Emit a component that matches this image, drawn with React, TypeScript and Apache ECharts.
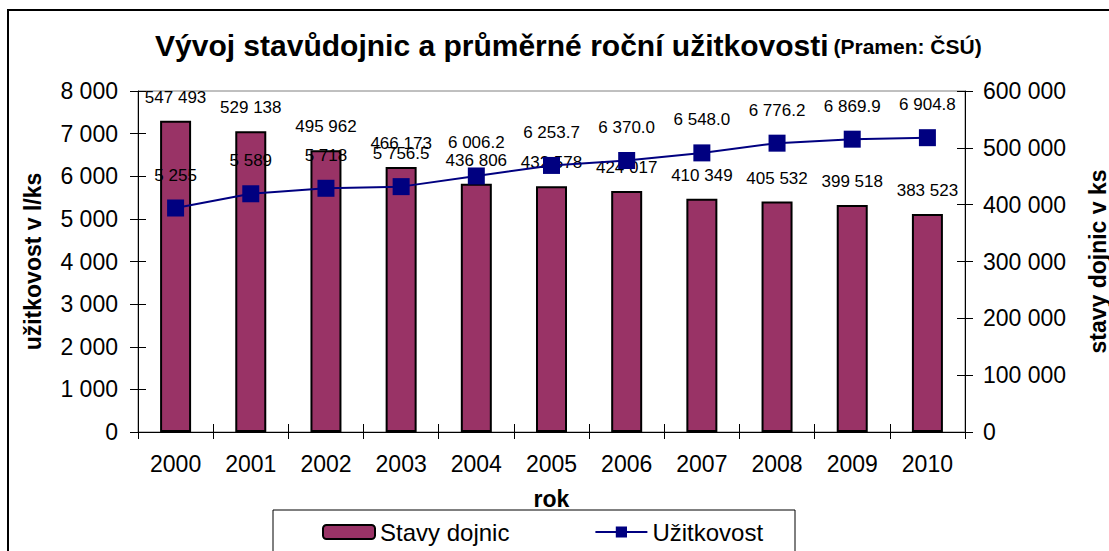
import React, { useEffect, useRef } from "react";
import * as echarts from "echarts";

const years = ["2000", "2001", "2002", "2003", "2004", "2005", "2006", "2007", "2008", "2009", "2010"];
const stavyDojnic = [547493, 529138, 495962, 466173, 436806, 432578, 424017, 410349, 405532, 399518, 383523];
const uzitkovost = [5255, 5589, 5718, 5756.5, 6006.2, 6253.7, 6370.0, 6548.0, 6776.2, 6869.9, 6904.8];
const uzitkovostDecimals = [0, 0, 0, 1, 1, 1, 1, 1, 1, 1, 1];

const FONT = "Liberation Sans, Arial, sans-serif";

function fmt(v: number, dec = 0): string {
  const s = v.toFixed(dec);
  const [i, d] = s.split(".");
  const ii = i.replace(/\B(?=(\d{3})+(?!\d))/g, " ");
  return d !== undefined ? ii + "." + d : ii;
}

export default function App() {
  const ref = useRef<HTMLDivElement>(null);
  useEffect(() => {
    if (!ref.current) return;
    const chart = echarts.init(ref.current, undefined, { renderer: "svg", width: 1109, height: 551 });
    const tickStyle = { color: "#000", width: 1 };
    chart.setOption({
      animation: false,
      backgroundColor: "#fff",
      textStyle: { fontFamily: FONT, color: "#000" },
      title: {
        text: "{a|Vývoj stavůdojnic a průměrné roční užitkovosti} {b|(Pramen: ČSÚ)}",
        left: 150,
        top: 25,
        textStyle: {
          rich: {
            a: { fontSize: 30, fontWeight: "bold", fontFamily: FONT, color: "#000", verticalAlign: "bottom" },
            b: { fontSize: 21, fontWeight: "bold", fontFamily: FONT, color: "#000", verticalAlign: "bottom", padding: [0, 0, 3, 0] },
          },
        },
      },
      graphic: [
        {
          type: "rect",
          shape: { x: 8, y: 10, width: 1200, height: 700 },
          style: { fill: "none", stroke: "#000", lineWidth: 2 },
          silent: true,
        },
        {
          type: "rect",
          shape: { x: 273, y: 510, width: 522, height: 60 },
          style: { fill: "none", stroke: "#000", lineWidth: 1 },
          silent: true,
        },
      ],
      legend: {
        left: 317,
        top: 515,
        itemWidth: 52,
        itemHeight: 14,
        itemGap: 85,
        textStyle: { fontSize: 24, fontFamily: FONT, color: "#000", padding: [0, 0, 0, 0] },
        data: ["Stavy dojnic", "Užitkovost"],
      },
      grid: {
        left: 138,
        top: 91,
        width: 827,
        height: 341,
        outerBoundsMode: "none",
        containLabel: false,
        show: true,
        borderColor: "#808080",
        borderWidth: 1,
        backgroundColor: "transparent",
      },
      xAxis: [
        {
          type: "category",
          data: years,
          position: "bottom",
          axisLine: { lineStyle: { color: "#000", width: 1 } },
          axisTick: { show: true, length: 7, lineStyle: tickStyle },
          axisLabel: { fontSize: 23, fontFamily: FONT, color: "#000", margin: 20 },
          name: "rok",
          nameLocation: "middle",
          nameGap: 55,
          nameTextStyle: { fontSize: 23, fontWeight: "bold", fontFamily: FONT, color: "#000" },
        },
        {
          type: "category",
          data: years,
          position: "bottom",
          axisLine: { show: false },
          axisTick: { show: true, inside: true, length: 8, lineStyle: tickStyle },
          axisLabel: { show: false },
        },
      ],
      yAxis: [
        {
          type: "value",
          position: "left",
          min: 0,
          max: 8000,
          interval: 1000,
          axisLine: { show: true, lineStyle: { color: "#000", width: 1 } },
          axisTick: { show: true, length: 8, lineStyle: tickStyle },
          splitLine: { show: false },
          axisLabel: { fontSize: 23, fontFamily: FONT, color: "#000", margin: 20, formatter: (v: number) => fmt(v) },
          name: "užitkovost v l/ks",
          nameLocation: "middle",
          nameRotate: 90,
          nameGap: 94,
          nameTextStyle: { fontSize: 23, fontWeight: "bold", fontFamily: FONT, color: "#000" },
        },
        {
          type: "value",
          position: "right",
          min: 0,
          max: 600000,
          interval: 100000,
          axisLine: { show: true, lineStyle: { color: "#000", width: 1 } },
          axisTick: { show: true, length: 8, lineStyle: tickStyle },
          splitLine: { show: false },
          axisLabel: { fontSize: 23, fontFamily: FONT, color: "#000", margin: 18, formatter: (v: number) => fmt(v) },
          name: "stavy dojnic v ks",
          nameLocation: "middle",
          nameRotate: 90,
          nameGap: 121,
          nameTextStyle: { fontSize: 23, fontWeight: "bold", fontFamily: FONT, color: "#000" },
        },
        {
          type: "value",
          position: "left",
          min: 0,
          max: 8000,
          interval: 1000,
          axisLine: { show: false },
          axisTick: { show: true, inside: true, length: 8, lineStyle: tickStyle },
          splitLine: { show: false },
          axisLabel: { show: false },
        },
        {
          type: "value",
          position: "right",
          min: 0,
          max: 600000,
          interval: 100000,
          axisLine: { show: false },
          axisTick: { show: true, inside: true, length: 8, lineStyle: tickStyle },
          splitLine: { show: false },
          axisLabel: { show: false },
        },
      ],
      series: [
        {
          name: "Stavy dojnic",
          type: "bar",
          yAxisIndex: 1,
          data: stavyDojnic,
          barWidth: 31,
          itemStyle: { color: "#993366", borderColor: "#000", borderWidth: 2 },
          label: {
            show: true,
            position: "top",
            distance: 15,
            fontSize: 17,
            fontFamily: FONT,
            color: "#000",
            formatter: (p: any) => fmt(p.value),
          },
          z: 2,
        },
        {
          name: "Užitkovost",
          type: "line",
          yAxisIndex: 0,
          data: uzitkovost,
          symbol: "rect",
          symbolSize: 17,
          lineStyle: { color: "#000080", width: 2 },
          itemStyle: { color: "#000080" },
          label: {
            show: true,
            position: "top",
            distance: 16,
            fontSize: 17,
            fontFamily: FONT,
            color: "#000",
            formatter: (p: any) => fmt(p.value, uzitkovostDecimals[p.dataIndex]),
          },
          z: 3,
        },
      ],
    });
    return () => chart.dispose();
  }, []);
  return (
    <div
      ref={ref}
      style={{ position: "absolute", left: 0, top: 0, width: 1109, height: 551, overflow: "hidden" }}
    />
  );
}
